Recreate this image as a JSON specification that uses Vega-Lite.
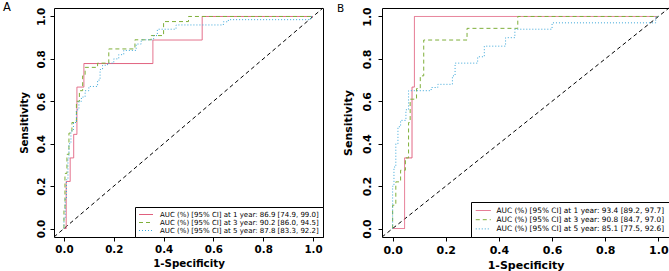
{
  "$schema": "https://vega.github.io/schema/vega-lite/v6.json",
  "background": "white",
  "padding": {"left": 2, "top": 1, "right": 0, "bottom": 0},
  "spacing": 59,
  "bounds": "flush",
  "config": {
    "view": {"stroke": "black", "strokeWidth": 1},
    "axis": {
      "domain": false, "grid": false, "ticks": true, "tickSize": 4, "tickColor": "black", "tickWidth": 1,
      "labelFont": "DejaVu Sans", "labelFontWeight": "bold", "labelColor": "black",
      "titleFont": "DejaVu Sans", "titleFontWeight": "bold", "titleColor": "black",
      "labelFlush": false, "labelOverlap": false
    },
    "legend": {
      "title": null, "orient": "bottom-right", "offset": 0,
      "strokeColor": "black", "fillColor": "white", "symbolType": "M-1,0H3", "symbolStrokeWidth": 1,
      "labelFont": "DejaVu Sans", "labelColor": "black", "labelLimit": 0, "cornerRadius": 0
    }
  },
  "datasets": {
    "diag": [{"x": -0.04, "y": -0.04}, {"x": 1.04, "y": 1.04}],
    "A": [
      {"k": "1", "i": 0, "x": 0, "y": 0}, {"k": "1", "i": 1, "x": 0.009, "y": 0}, {"k": "1", "i": 2, "x": 0.009, "y": 0.222},
      {"k": "1", "i": 3, "x": 0.025, "y": 0.222}, {"k": "1", "i": 4, "x": 0.025, "y": 0.333}, {"k": "1", "i": 5, "x": 0.039, "y": 0.333},
      {"k": "1", "i": 6, "x": 0.039, "y": 0.444}, {"k": "1", "i": 7, "x": 0.052, "y": 0.444}, {"k": "1", "i": 8, "x": 0.052, "y": 0.667},
      {"k": "1", "i": 9, "x": 0.08, "y": 0.667}, {"k": "1", "i": 10, "x": 0.08, "y": 0.778}, {"k": "1", "i": 11, "x": 0.357, "y": 0.778},
      {"k": "1", "i": 12, "x": 0.357, "y": 0.889}, {"k": "1", "i": 13, "x": 0.555, "y": 0.889}, {"k": "1", "i": 14, "x": 0.555, "y": 1},
      {"k": "1", "i": 15, "x": 1, "y": 1},
      {"k": "3", "i": 0, "x": 0, "y": 0}, {"k": "3", "i": 1, "x": 0, "y": 0.09}, {"k": "3", "i": 2, "x": 0.004, "y": 0.09},
      {"k": "3", "i": 3, "x": 0.004, "y": 0.26}, {"k": "3", "i": 4, "x": 0.012, "y": 0.26}, {"k": "3", "i": 5, "x": 0.012, "y": 0.35},
      {"k": "3", "i": 6, "x": 0.02, "y": 0.35}, {"k": "3", "i": 7, "x": 0.02, "y": 0.45}, {"k": "3", "i": 8, "x": 0.032, "y": 0.45},
      {"k": "3", "i": 9, "x": 0.032, "y": 0.5}, {"k": "3", "i": 10, "x": 0.05, "y": 0.5}, {"k": "3", "i": 11, "x": 0.05, "y": 0.6},
      {"k": "3", "i": 12, "x": 0.062, "y": 0.6}, {"k": "3", "i": 13, "x": 0.062, "y": 0.65}, {"k": "3", "i": 14, "x": 0.075, "y": 0.65},
      {"k": "3", "i": 15, "x": 0.075, "y": 0.72}, {"k": "3", "i": 16, "x": 0.085, "y": 0.72}, {"k": "3", "i": 17, "x": 0.085, "y": 0.76},
      {"k": "3", "i": 18, "x": 0.135, "y": 0.76}, {"k": "3", "i": 19, "x": 0.135, "y": 0.78}, {"k": "3", "i": 20, "x": 0.18, "y": 0.78},
      {"k": "3", "i": 21, "x": 0.18, "y": 0.847}, {"k": "3", "i": 22, "x": 0.285, "y": 0.847}, {"k": "3", "i": 23, "x": 0.285, "y": 0.89},
      {"k": "3", "i": 24, "x": 0.35, "y": 0.89}, {"k": "3", "i": 25, "x": 0.35, "y": 0.91}, {"k": "3", "i": 26, "x": 0.4, "y": 0.91},
      {"k": "3", "i": 27, "x": 0.4, "y": 0.976}, {"k": "3", "i": 28, "x": 0.5, "y": 0.976}, {"k": "3", "i": 29, "x": 0.5, "y": 1},
      {"k": "3", "i": 30, "x": 1, "y": 1},
      {"k": "5", "i": 0, "x": 0, "y": 0}, {"k": "5", "i": 1, "x": 0, "y": 0.05}, {"k": "5", "i": 2, "x": 0.005, "y": 0.05},
      {"k": "5", "i": 3, "x": 0.005, "y": 0.14}, {"k": "5", "i": 4, "x": 0.01, "y": 0.14}, {"k": "5", "i": 5, "x": 0.01, "y": 0.23},
      {"k": "5", "i": 6, "x": 0.016, "y": 0.23}, {"k": "5", "i": 7, "x": 0.016, "y": 0.33}, {"k": "5", "i": 8, "x": 0.02, "y": 0.33},
      {"k": "5", "i": 9, "x": 0.02, "y": 0.4}, {"k": "5", "i": 10, "x": 0.028, "y": 0.4}, {"k": "5", "i": 11, "x": 0.028, "y": 0.46},
      {"k": "5", "i": 12, "x": 0.038, "y": 0.46}, {"k": "5", "i": 13, "x": 0.038, "y": 0.5}, {"k": "5", "i": 14, "x": 0.05, "y": 0.5},
      {"k": "5", "i": 15, "x": 0.05, "y": 0.56}, {"k": "5", "i": 16, "x": 0.06, "y": 0.56}, {"k": "5", "i": 17, "x": 0.06, "y": 0.6},
      {"k": "5", "i": 18, "x": 0.07, "y": 0.6}, {"k": "5", "i": 19, "x": 0.07, "y": 0.62}, {"k": "5", "i": 20, "x": 0.085, "y": 0.62},
      {"k": "5", "i": 21, "x": 0.085, "y": 0.65}, {"k": "5", "i": 22, "x": 0.1, "y": 0.65}, {"k": "5", "i": 23, "x": 0.1, "y": 0.67},
      {"k": "5", "i": 24, "x": 0.135, "y": 0.67}, {"k": "5", "i": 25, "x": 0.135, "y": 0.7}, {"k": "5", "i": 26, "x": 0.145, "y": 0.7},
      {"k": "5", "i": 27, "x": 0.145, "y": 0.75}, {"k": "5", "i": 28, "x": 0.155, "y": 0.75}, {"k": "5", "i": 29, "x": 0.155, "y": 0.77},
      {"k": "5", "i": 30, "x": 0.175, "y": 0.77}, {"k": "5", "i": 31, "x": 0.175, "y": 0.78}, {"k": "5", "i": 32, "x": 0.2, "y": 0.78},
      {"k": "5", "i": 33, "x": 0.2, "y": 0.8}, {"k": "5", "i": 34, "x": 0.22, "y": 0.8}, {"k": "5", "i": 35, "x": 0.22, "y": 0.82},
      {"k": "5", "i": 36, "x": 0.24, "y": 0.82}, {"k": "5", "i": 37, "x": 0.24, "y": 0.84}, {"k": "5", "i": 38, "x": 0.29, "y": 0.84},
      {"k": "5", "i": 39, "x": 0.29, "y": 0.87}, {"k": "5", "i": 40, "x": 0.31, "y": 0.87}, {"k": "5", "i": 41, "x": 0.31, "y": 0.89},
      {"k": "5", "i": 42, "x": 0.36, "y": 0.89}, {"k": "5", "i": 43, "x": 0.36, "y": 0.91}, {"k": "5", "i": 44, "x": 0.375, "y": 0.91},
      {"k": "5", "i": 45, "x": 0.375, "y": 0.94}, {"k": "5", "i": 46, "x": 0.45, "y": 0.94}, {"k": "5", "i": 47, "x": 0.45, "y": 0.96},
      {"k": "5", "i": 48, "x": 0.64, "y": 0.96}, {"k": "5", "i": 49, "x": 0.64, "y": 0.975}, {"k": "5", "i": 50, "x": 0.66, "y": 0.975},
      {"k": "5", "i": 51, "x": 0.66, "y": 0.985}, {"k": "5", "i": 52, "x": 0.99, "y": 0.985}, {"k": "5", "i": 53, "x": 0.99, "y": 1},
      {"k": "5", "i": 54, "x": 1, "y": 1}
    ],
    "B": [
      {"k": "1", "i": 0, "x": 0, "y": 0}, {"k": "1", "i": 1, "x": 0.045, "y": 0}, {"k": "1", "i": 2, "x": 0.045, "y": 0.333},
      {"k": "1", "i": 3, "x": 0.073, "y": 0.333}, {"k": "1", "i": 4, "x": 0.073, "y": 0.667}, {"k": "1", "i": 5, "x": 0.082, "y": 0.667},
      {"k": "1", "i": 6, "x": 0.082, "y": 1}, {"k": "1", "i": 7, "x": 1, "y": 1},
      {"k": "3", "i": 0, "x": 0, "y": 0}, {"k": "3", "i": 1, "x": 0, "y": 0.11}, {"k": "3", "i": 2, "x": 0.012, "y": 0.11},
      {"k": "3", "i": 3, "x": 0.012, "y": 0.22}, {"k": "3", "i": 4, "x": 0.03, "y": 0.22}, {"k": "3", "i": 5, "x": 0.03, "y": 0.275},
      {"k": "3", "i": 6, "x": 0.048, "y": 0.275}, {"k": "3", "i": 7, "x": 0.048, "y": 0.333}, {"k": "3", "i": 8, "x": 0.06, "y": 0.333},
      {"k": "3", "i": 9, "x": 0.06, "y": 0.5}, {"k": "3", "i": 10, "x": 0.066, "y": 0.5}, {"k": "3", "i": 11, "x": 0.066, "y": 0.61},
      {"k": "3", "i": 12, "x": 0.09, "y": 0.61}, {"k": "3", "i": 13, "x": 0.09, "y": 0.66}, {"k": "3", "i": 14, "x": 0.104, "y": 0.66},
      {"k": "3", "i": 15, "x": 0.104, "y": 0.72}, {"k": "3", "i": 16, "x": 0.117, "y": 0.72}, {"k": "3", "i": 17, "x": 0.117, "y": 0.889},
      {"k": "3", "i": 18, "x": 0.28, "y": 0.889}, {"k": "3", "i": 19, "x": 0.28, "y": 0.944}, {"k": "3", "i": 20, "x": 0.471, "y": 0.944},
      {"k": "3", "i": 21, "x": 0.471, "y": 1}, {"k": "3", "i": 22, "x": 1, "y": 1},
      {"k": "5", "i": 0, "x": 0, "y": 0}, {"k": "5", "i": 1, "x": 0, "y": 0.2}, {"k": "5", "i": 2, "x": 0.005, "y": 0.2},
      {"k": "5", "i": 3, "x": 0.005, "y": 0.29}, {"k": "5", "i": 4, "x": 0.012, "y": 0.29}, {"k": "5", "i": 5, "x": 0.012, "y": 0.4},
      {"k": "5", "i": 6, "x": 0.02, "y": 0.4}, {"k": "5", "i": 7, "x": 0.02, "y": 0.48}, {"k": "5", "i": 8, "x": 0.03, "y": 0.48},
      {"k": "5", "i": 9, "x": 0.03, "y": 0.51}, {"k": "5", "i": 10, "x": 0.05, "y": 0.51}, {"k": "5", "i": 11, "x": 0.05, "y": 0.56},
      {"k": "5", "i": 12, "x": 0.06, "y": 0.56}, {"k": "5", "i": 13, "x": 0.06, "y": 0.65}, {"k": "5", "i": 14, "x": 0.145, "y": 0.65},
      {"k": "5", "i": 15, "x": 0.145, "y": 0.665}, {"k": "5", "i": 16, "x": 0.17, "y": 0.665}, {"k": "5", "i": 17, "x": 0.17, "y": 0.68},
      {"k": "5", "i": 18, "x": 0.225, "y": 0.68}, {"k": "5", "i": 19, "x": 0.225, "y": 0.72}, {"k": "5", "i": 20, "x": 0.235, "y": 0.72},
      {"k": "5", "i": 21, "x": 0.235, "y": 0.78}, {"k": "5", "i": 22, "x": 0.32, "y": 0.78}, {"k": "5", "i": 23, "x": 0.32, "y": 0.81},
      {"k": "5", "i": 24, "x": 0.345, "y": 0.81}, {"k": "5", "i": 25, "x": 0.345, "y": 0.86}, {"k": "5", "i": 26, "x": 0.425, "y": 0.86},
      {"k": "5", "i": 27, "x": 0.425, "y": 0.9}, {"k": "5", "i": 28, "x": 0.46, "y": 0.9}, {"k": "5", "i": 29, "x": 0.46, "y": 0.94},
      {"k": "5", "i": 30, "x": 0.6, "y": 0.94}, {"k": "5", "i": 31, "x": 0.6, "y": 0.97}, {"k": "5", "i": 32, "x": 0.99, "y": 0.97},
      {"k": "5", "i": 33, "x": 0.99, "y": 1}, {"k": "5", "i": 34, "x": 1, "y": 1}
    ]
  },
  "resolve": {"scale": {"color": "independent", "strokeDash": "independent"}, "legend": {"color": "independent", "strokeDash": "independent"}},
  "hconcat": [
    {
      "width": 269, "height": 229,
      "title": {"text": "A", "anchor": "start", "frame": "group", "offset": -16, "dx": -51, "baseline": "alphabetic", "fontSize": 11.5, "fontWeight": "normal", "font": "DejaVu Sans", "color": "black"},
      "layer": [
        {
          "data": {"name": "diag"},
          "mark": {"type": "line", "color": "black", "strokeWidth": 1, "strokeDash": [4, 3]},
          "encoding": {
            "x": {"field": "x", "type": "quantitative", "scale": {"domain": [-0.04, 1.04], "nice": false, "zero": false},
                  "axis": {"values": [0, 0.2, 0.4, 0.6, 0.8, 1], "format": ".1f", "title": "1-Specificity", "labelFontSize": 10.3, "titleFontSize": 10.3, "labelPadding": 3, "titlePadding": 4}},
            "y": {"field": "y", "type": "quantitative", "scale": {"domain": [-0.04, 1.04], "nice": false, "zero": false},
                  "axis": {"values": [0, 0.2, 0.4, 0.6, 0.8, 1], "format": ".1f", "title": "Sensitivity", "labelAngle": -90, "labelFontSize": 10.3, "titleFontSize": 10.3, "labelPadding": 4, "titlePadding": 7}}
          }
        },
        {
          "data": {"name": "A"},
          "mark": {"type": "line", "strokeWidth": 1},
          "encoding": {
            "x": {"field": "x", "type": "quantitative"},
            "y": {"field": "y", "type": "quantitative"},
            "order": {"field": "i", "type": "quantitative"},
            "color": {"field": "k", "type": "nominal", "scale": {"domain": ["1", "3", "5"], "range": ["#E0607E", "#7FAF3A", "#3AA6D8"]},
                      "legend": {"labelFontSize": 7, "symbolSize": 49, "rowPadding": 1, "labelOffset": 13.5, "padding": 3.5,
                                 "labelExpr": "datum.label == '1' ? 'AUC (%) [95% CI] at 1 year: 86.9 [74.9, 99.0]' : datum.label == '3' ? 'AUC (%) [95% CI] at 3 year: 90.2 [86.0, 94.5]' : 'AUC (%) [95% CI] at 5 year: 87.8 [83.3, 92.2]'"}},
            "strokeDash": {"field": "k", "type": "nominal", "scale": {"domain": ["1", "3", "5"], "range": [[1, 0], [4, 3], [1, 2]]},
                      "legend": {"labelFontSize": 7, "symbolSize": 49, "rowPadding": 1, "labelOffset": 13.5, "padding": 3.5,
                                 "labelExpr": "datum.label == '1' ? 'AUC (%) [95% CI] at 1 year: 86.9 [74.9, 99.0]' : datum.label == '3' ? 'AUC (%) [95% CI] at 3 year: 90.2 [86.0, 94.5]' : 'AUC (%) [95% CI] at 5 year: 87.8 [83.3, 92.2]'"}}
          }
        }
      ]
    },
    {
      "width": 287, "height": 229,
      "title": {"text": "B", "anchor": "start", "frame": "group", "offset": -16, "dx": -45, "baseline": "alphabetic", "fontSize": 10.5, "fontWeight": "normal", "font": "DejaVu Sans", "color": "black"},
      "layer": [
        {
          "data": {"name": "diag"},
          "mark": {"type": "line", "color": "black", "strokeWidth": 1, "strokeDash": [4, 3]},
          "encoding": {
            "x": {"field": "x", "type": "quantitative", "scale": {"domain": [-0.04, 1.04], "nice": false, "zero": false},
                  "axis": {"values": [0, 0.2, 0.4, 0.6, 0.8, 1], "format": ".1f", "title": "1-Specificity", "labelFontSize": 11, "titleFontSize": 11, "labelPadding": 3, "titlePadding": 4}},
            "y": {"field": "y", "type": "quantitative", "scale": {"domain": [-0.04, 1.04], "nice": false, "zero": false},
                  "axis": {"values": [0, 0.2, 0.4, 0.6, 0.8, 1], "format": ".1f", "title": "Sensitivity", "labelAngle": -90, "labelFontSize": 11, "titleFontSize": 11, "labelPadding": 6, "titlePadding": 8}}
          }
        },
        {
          "data": {"name": "B"},
          "mark": {"type": "line", "strokeWidth": 1},
          "encoding": {
            "x": {"field": "x", "type": "quantitative"},
            "y": {"field": "y", "type": "quantitative"},
            "order": {"field": "i", "type": "quantitative"},
            "color": {"field": "k", "type": "nominal", "scale": {"domain": ["1", "3", "5"], "range": ["#E0607E", "#7FAF3A", "#3AA6D8"]},
                      "legend": {"labelFontSize": 7.4, "symbolSize": 56.25, "rowPadding": 1.2, "labelOffset": 12.5, "padding": 4,
                                 "labelExpr": "datum.label == '1' ? 'AUC (%) [95% CI] at 1 year: 93.4 [89.2, 97.7]' : datum.label == '3' ? 'AUC (%) [95% CI] at 3 year: 90.8 [84.7, 97.0]' : 'AUC (%) [95% CI] at 5 year: 85.1 [77.5, 92.6]'"}},
            "strokeDash": {"field": "k", "type": "nominal", "scale": {"domain": ["1", "3", "5"], "range": [[1, 0], [4, 3], [1, 2]]},
                      "legend": {"labelFontSize": 7.4, "symbolSize": 56.25, "rowPadding": 1.2, "labelOffset": 12.5, "padding": 4,
                                 "labelExpr": "datum.label == '1' ? 'AUC (%) [95% CI] at 1 year: 93.4 [89.2, 97.7]' : datum.label == '3' ? 'AUC (%) [95% CI] at 3 year: 90.8 [84.7, 97.0]' : 'AUC (%) [95% CI] at 5 year: 85.1 [77.5, 92.6]'"}}
          }
        }
      ]
    }
  ]
}
